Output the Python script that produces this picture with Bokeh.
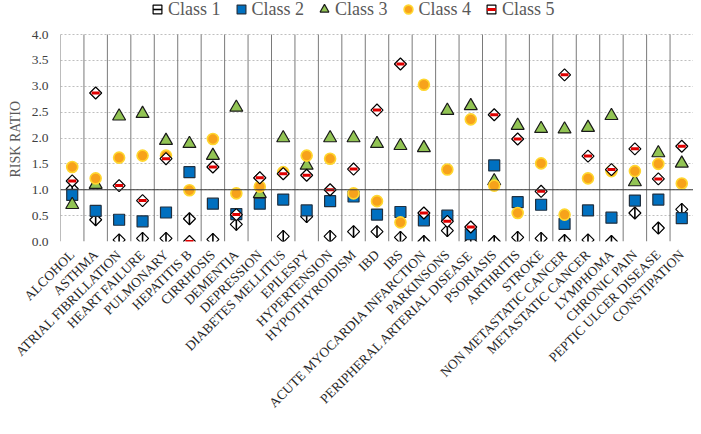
import math
from bokeh.plotting import figure
from bokeh.models import (Range1d, FixedTicker, Span, Legend, LegendItem, ColumnDataSource,
                          PrintfTickFormatter, Title)
from bokeh.embed import file_html
from bokeh.resources import INLINE

categories = ["ALCOHOL", "ASTHMA", "ATRIAL FIBRILLATION", "HEART FAILURE", "PULMONARY",
              "HEPATITIS B", "CIRRHOSIS", "DEMENTIA", "DEPRESSION", "DIABETES MELLITUS",
              "EPILESPY", "HYPERTENSION", "HYPOTHYROIDISM", "IBD", "IBS",
              "ACUTE MYOCARDIA INFARCTION", "PARKINSONS", "PERIPHERAL ARTERIAL DISEASE",
              "PSORIASIS", "ARTHRITIS", "STROKE", "NON METASTATIC CANCER",
              "METASTATIC CANCER", "LYMPHOMA", "CHRONIC PAIN", "PEPTIC ULCER DISEASE",
              "CONSTIPATION"]

class1 = [1.02, 0.42, 0.03, 0.06, 0.06, 0.44, 0.04, 0.33, 1.23, 0.10, 0.48, 0.10, 0.19, 0.19,
          0.08, 0.00, 0.21, 0.00, 0.00, 0.08, 0.06, 0.02, 0.03, 0.00, 0.55, 0.26, 0.62]
class2 = [0.90, 0.59, 0.42, 0.39, 0.56, 1.34, 0.73, 0.53, 0.73, 0.81, 0.60, 0.78, 0.87, 0.52,
          0.57, 0.41, 0.50, 0.14, 1.47, 0.76, 0.71, 0.34, 0.60, 0.46, 0.79, 0.81, 0.45]
class3 = [0.71, 1.10, 2.42, 2.47, 1.95, 1.89, 1.66, 2.59, 0.92, 2.00, 1.47, 2.00, 2.00, 1.89,
          1.85, 1.81, 2.53, 2.62, 1.17, 2.24, 2.18, 2.17, 2.20, 2.43, 1.15, 1.71, 1.51]
class4 = [1.44, 1.22, 1.62, 1.66, 1.66, 0.99, 1.98, 0.93, 1.06, 1.34, 1.66, 1.60, 0.93, 0.78,
          0.37, 3.03, 1.39, 2.36, 1.08, 0.55, 1.51, 0.52, 1.22, 1.36, 1.36, 1.50, 1.12]
class5 = [1.17, 2.87, 1.08, 0.79, 1.60, 0.00, 1.44, 0.52, 1.23, 1.31, 1.28, 1.00, 1.40, 2.54,
          3.43, 0.55, 0.39, 0.28, 2.45, 1.98, 0.97, 3.22, 1.65, 1.39, 1.79, 1.21, 1.84]
y_ticks = [0.0, 0.5, 1.0, 1.5, 2.0, 2.5, 3.0, 3.5, 4.0]

n = len(categories)
xs = [i + 0.5 for i in range(n)]
bounds = list(range(n + 1))
src = ColumnDataSource(dict(x=xs, c1=class1, c2=class2, c3=class3, c4=class4, c5=class5))

SERIF = "Liberation Serif"
Y_MAX = y_ticks[-1]
# extra headroom above the 4.0 line holds the legend
Y_TOP = Y_MAX * 241 / 207

p = figure(width=693, height=418, x_range=Range1d(0, n), y_range=Range1d(0, Y_TOP),
           output_backend="svg", toolbar_location=None,
           min_border_left=60, min_border_right=0, min_border_top=0, min_border_bottom=177)
p.outline_line_color = None

# grids
p.xgrid.visible = False
p.segment(x0=bounds, y0=[0] * len(bounds), x1=bounds, y1=[Y_MAX] * len(bounds),
          line_color="#7a7a7a", line_width=1)
p.ygrid.ticker = FixedTicker(ticks=y_ticks)
p.ygrid.grid_line_color = "#BFBFBF"
p.ygrid.grid_line_dash = "2 2"
p.ygrid.grid_line_width = 1.2
p.add_layout(Span(location=1.0, dimension="width", line_color="#3a3a3a", line_width=1))

# x axis
p.xaxis.ticker = FixedTicker(ticks=xs)
p.xaxis.major_label_overrides = {x: c for x, c in zip(xs, categories)}
p.xaxis.major_label_orientation = math.pi / 4
p.xaxis.axis_line_color = None
p.xaxis.major_tick_line_color = None
p.xaxis.minor_tick_line_color = None
p.xaxis.major_tick_out = 0
p.xaxis.major_label_standoff = 11
p.xaxis.major_label_text_font = SERIF
p.xaxis.major_label_text_font_size = "13.5px"
p.xaxis.major_label_text_color = "#262626"

# y axis
p.yaxis.ticker = FixedTicker(ticks=y_ticks)
p.yaxis.formatter = PrintfTickFormatter(format="%.1f")
p.yaxis.axis_line_color = None
p.yaxis.major_tick_line_color = None
p.yaxis.minor_tick_line_color = None
p.yaxis.major_tick_out = 0
p.yaxis.major_label_standoff = 12
p.yaxis.major_label_text_font = SERIF
p.yaxis.major_label_text_font_size = "13.5px"
p.yaxis.major_label_text_color = "#404040"

ytitle = Title(text="RISK RATIO", align="left", offset=64, vertical_align="middle",
               text_font=SERIF, text_font_size="14px", text_font_style="normal",
               text_color="#595959")
p.add_layout(ytitle, "left")

# markers
r1a = p.scatter("x", "c1", source=src, marker="square", angle=math.pi / 4, size=8.5,
                fill_color="white", line_color="black", line_width=1.2)
r1b = p.scatter("x", "c1", source=src, marker="dash", angle=math.pi / 2, size=12,
                line_color="black", line_width=1.6)
r2 = p.scatter("x", "c2", source=src, marker="square", size=11,
               fill_color="#0070C0", line_color="#203040", line_width=1.2)
r3 = p.scatter("x", "c3", source=src, marker="triangle", size=13,
               fill_color="#92C454", line_color="#1a1a1a", line_width=1.2)
r4 = p.scatter("x", "c4", source=src, marker="circle", size=11,
               fill_color="#F7A21B", line_color="#FFD62E", line_width=1.6)
r5a = p.scatter("x", "c5", source=src, marker="square", angle=math.pi / 4, size=8.5,
                fill_color="white", line_color="black", line_width=1.2)
r5b = p.scatter("x", "c5", source=src, marker="dash", size=8,
                line_color="#E00000", line_width=3)

legend = Legend(items=[
    LegendItem(label="Class 1", renderers=[r1a, r1b]),
    LegendItem(label="Class 2", renderers=[r2]),
    LegendItem(label="Class 3", renderers=[r3]),
    LegendItem(label="Class 4", renderers=[r4]),
    LegendItem(label="Class 5", renderers=[r5a, r5b]),
], orientation="horizontal", location=(86, 220))
legend.label_text_font = SERIF
legend.label_text_font_size = "18px"
legend.label_text_color = "#595959"
legend.glyph_width = 22
legend.glyph_height = 24
legend.label_standoff = 0
legend.spacing = 9
legend.padding = 0
legend.margin = 0
legend.background_fill_alpha = 0
legend.border_line_alpha = 0
p.add_layout(legend)

open("out.html", "w").write(file_html(p, INLINE))
